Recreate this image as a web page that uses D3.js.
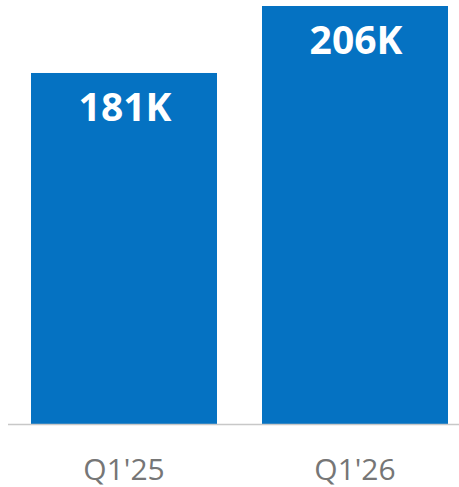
<!DOCTYPE html>
<html><head><meta charset="utf-8">
<script src="https://cdn.jsdelivr.net/npm/d3@7"></script>
<style>html,body{margin:0;padding:0;background:#fff;}svg{display:block;}</style>
</head><body>
<svg id="chart" width="459" height="487"></svg>
<script>
const categories = ["Q1'25", "Q1'26"];
const values = [181, 206];
const valueLabels = ["181K", "206K"];

const svg = d3.select("#chart");
const W = 459;
const baseY = 424;
const x = d3.scaleBand().domain(categories).range([31, 448]).paddingInner(0.1948).paddingOuter(0);
const y = d3.scaleLinear().domain([50, 206]).range([baseY, 6]);

svg.selectAll("rect.bar").data(categories).join("rect")
  .attr("class", "bar")
  .attr("x", d => x(d))
  .attr("width", x.bandwidth())
  .attr("y", (d, i) => y(values[i]))
  .attr("height", (d, i) => baseY - y(values[i]))
  .attr("fill", "#0572C2");

svg.append("line").attr("x1", 8).attr("x2", W).attr("y1", baseY + 0.5).attr("y2", baseY + 0.5)
  .attr("stroke", "#C8C8C8").attr("stroke-width", 1.5);

svg.selectAll("text.val").data(categories).join("text")
  .attr("class", "val")
  .attr("x", d => x(d) + x.bandwidth() / 2 + 1)
  .attr("y", (d, i) => y(values[i]) + 48)
  .attr("text-anchor", "middle")
  .attr("font-family", "'Open Sans', sans-serif")
  .attr("font-weight", "bold")
  .attr("font-size", 39)
  .attr("fill", "#fff")
  .text((d, i) => valueLabels[i]);

svg.selectAll("text.cat").data(categories).join("text")
  .attr("class", "cat")
  .attr("x", d => x(d) + x.bandwidth() / 2)
  .attr("y", 480)
  .attr("text-anchor", "middle")
  .attr("font-family", "'Open Sans', sans-serif")
  .attr("font-size", 30)
  .attr("fill", "#767676")
  .text(d => d);
</script>
</body></html>
